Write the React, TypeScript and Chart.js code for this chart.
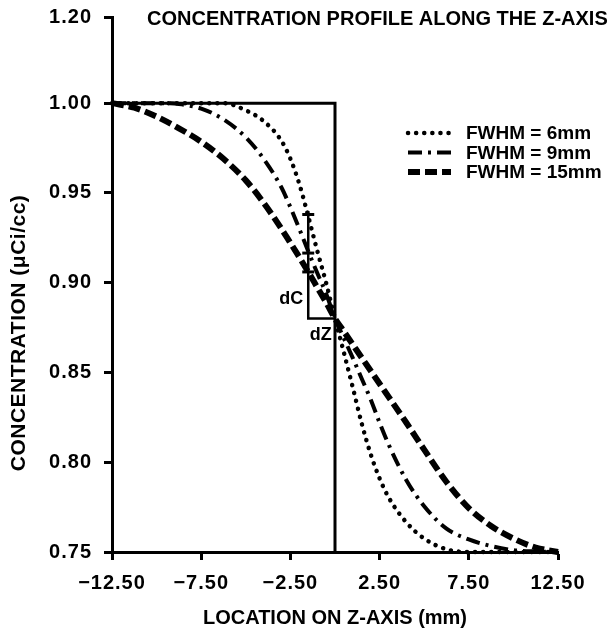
import React, { useEffect, useRef } from "react";
import { Chart, registerables } from "chart.js";

Chart.register(...registerables);

// ---- data ----
const zGrid = [-12.5, -11.25, -10, -8.75, -7.5, -6.25, -5, -4, -3, -2.5, -2, -1.5, -1, -0.5, 0, 0.5, 1, 1.5, 2, 2.5, 3, 4, 5, 6.25, 7.5, 8.75, 10, 11.25, 12.5];
const fwhm6 = [1.0, 1.0, 1.0, 1.0, 1.0, 1.0, 0.996, 0.99, 0.979, 0.969, 0.955, 0.937, 0.918, 0.9, 0.88, 0.861, 0.8415, 0.8215, 0.8045, 0.791, 0.7805, 0.7665, 0.7575, 0.7515, 0.75, 0.75, 0.75, 0.75, 0.75];
const fwhm9 = [1.0, 1.0, 1.0, 0.9995, 0.997, 0.991, 0.981, 0.969, 0.953, 0.942, 0.93, 0.9175, 0.9055, 0.894, 0.88, 0.869, 0.858, 0.8465, 0.835, 0.822, 0.81, 0.79, 0.7755, 0.763, 0.757, 0.7533, 0.751, 0.7503, 0.75];
const fwhm15 = [1.0, 0.9975, 0.9925, 0.986, 0.9785, 0.969, 0.957, 0.9445, 0.93, 0.9222, 0.9142, 0.906, 0.8975, 0.889, 0.88, 0.8728, 0.8655, 0.8582, 0.851, 0.8437, 0.8365, 0.822, 0.807, 0.789, 0.7745, 0.7645, 0.7575, 0.7525, 0.75];
const seriesLabels = ["FWHM = 6mm", "FWHM = 9mm", "FWHM = 15mm"];

const stepZ = [-12.5, 0, 0];
const stepC = [1.0, 1.0, 0.75];

const boxZ = [-1.5, -1.5, 0];
const boxC = [0.94, 0.88, 0.88];
const markZ = [-1.5, -1.5, -1.5];
const markC = [0.938, 0.9165, 0.906];

const xTicks = [-12.5, -7.5, -2.5, 2.5, 7.5, 12.5];
const xTickLabels = ["\u221212.50", "\u22127.50", "\u22122.50", "2.50", "7.50", "12.50"];
const yTicks = [0.75, 0.8, 0.85, 0.9, 0.95, 1.0, 1.048];
const yTickLabels = ["0.75", "0.80", "0.85", "0.90", "0.95", "1.00", "1.20"];

const titleText = "CONCENTRATION PROFILE ALONG THE Z-AXIS";
const xTitle = "LOCATION ON Z-AXIS (mm)";
const yTitle = "CONCENTRATION (\u03bcCi/cc)";

const FONT = "'Liberation Sans', Arial, Helvetica, sans-serif";

const pts = (xs: number[], ys: number[]) => xs.map((x, i) => ({ x, y: ys[i] }));

const curveStyles = [
  { borderDash: [0.1, 8], borderWidth: 4.5, borderCapStyle: "round" as const },
  { borderDash: [14, 6, 3, 6], borderWidth: 4, borderCapStyle: "butt" as const },
  { borderDash: [12, 5], borderWidth: 6, borderCapStyle: "butt" as const },
];

const spacing = {
  id: "spacing",
  beforeDraw(chart: any) {
    (chart.ctx as any).letterSpacing = "1px";
  },
  beforeDatasetsDraw(chart: any) {
    (chart.ctx as any).letterSpacing = "0px";
  },
};

const overlay = {
  id: "overlay",
  afterDraw(chart: any) {
    const ctx = chart.ctx;
    const xs = chart.scales.x;
    const ys = chart.scales.y;
    ctx.save();
    (ctx as any).letterSpacing = "0px";
    ctx.fillStyle = "#000";
    ctx.strokeStyle = "#000";
    // title
    ctx.font = `bold 20px ${FONT}`;
    ctx.textAlign = "left";
    ctx.textBaseline = "middle";
    ctx.fillText(titleText, 147, 19);
    // x title
    ctx.textAlign = "center";
    ctx.fillText(xTitle, xs.getPixelForValue(0), 618);
    // y title
    ctx.save();
    ctx.font = `bold 21px ${FONT}`;
    (ctx as any).letterSpacing = "0.5px";
    ctx.translate(19, ys.getPixelForValue(0.872));
    ctx.rotate(-Math.PI / 2);
    ctx.fillText(yTitle, 0, 0);
    ctx.restore();
    // legend
    const lx0 = 408, lx1 = 451, tx = 466;
    const rows = [133, 152.5, 172];
    ctx.font = `bold 19px ${FONT}`;
    ctx.textAlign = "left";
    seriesLabels.forEach((lab, i) => {
      const st = curveStyles[i];
      ctx.save();
      ctx.setLineDash(st.borderDash);
      ctx.lineWidth = st.borderWidth;
      ctx.lineCap = st.borderCapStyle;
      ctx.beginPath();
      ctx.moveTo(lx0, rows[i]);
      ctx.lineTo(lx1, rows[i]);
      ctx.stroke();
      ctx.restore();
      ctx.fillText(lab, tx, rows[i] + 1);
    });
    // dC / dZ labels
    ctx.font = `bold 18px ${FONT}`;
    ctx.textAlign = "right";
    ctx.fillText("dC", xs.getPixelForValue(-1.5) - 5, ys.getPixelForValue(0.891));
    ctx.textAlign = "center";
    ctx.fillText("dZ", xs.getPixelForValue(-0.8), ys.getPixelForValue(0.871));
    ctx.restore();
  },
};

const curve = (i: number, ys: number[]) => ({
  label: seriesLabels[i],
  data: pts(zGrid, ys),
  borderColor: "#000",
  pointRadius: 0,
  cubicInterpolationMode: "monotone",
  clip: false,
  ...curveStyles[i],
});

export default function App() {
  const ref = useRef<HTMLCanvasElement | null>(null);
  useEffect(() => {
    if (!ref.current) return;
    const chart = new Chart(ref.current, {
      type: "line",
      data: {
        datasets: [
          curve(0, fwhm6),
          curve(1, fwhm9),
          curve(2, fwhm15),
          {
            label: "step",
            data: pts(stepZ, stepC),
            borderColor: "#000",
            borderWidth: 3,
            pointRadius: 0,
            tension: 0,
            clip: false,
          },
          {
            label: "box",
            data: pts(boxZ, boxC),
            borderColor: "#000",
            borderWidth: 2.5,
            pointRadius: 0,
            tension: 0,
            clip: false,
          },
          {
            label: "marks",
            data: pts(markZ, markC),
            showLine: false,
            borderColor: "#000",
            pointStyle: "line",
            pointRadius: 6,
            pointBorderWidth: 3,
            pointBorderColor: "#000",
            clip: false,
          },
        ],
      },
      options: {
        responsive: false,
        animation: false,
        events: [],
        layout: { padding: { top: 17, right: 55, left: 0, bottom: 0 } },
        plugins: { legend: { display: false }, title: { display: false }, tooltip: { enabled: false } },
        scales: {
          x: {
            type: "linear",
            min: -12.5,
            max: 12.5,
            afterBuildTicks: (s: any) => {
              s.ticks = xTicks.map((v) => ({ value: v }));
            },
            afterFit: (s: any) => {
              s.height = 81;
              s.paddingLeft = 0;
              s.paddingRight = 0;
            },
            ticks: {
              autoSkip: false,
              maxRotation: 0,
              padding: 11,
              color: "#000",
              font: { family: FONT, size: 20, weight: "bold" },
              callback: (_v: any, i: number) => xTickLabels[i],
            },
            grid: { display: true, drawOnChartArea: false, drawTicks: true, tickLength: 8, tickWidth: 3, tickColor: "#000" },
            border: { display: true, color: "#000", width: 3 },
          },
          y: {
            type: "linear",
            min: 0.75,
            max: 1.048,
            afterBuildTicks: (s: any) => {
              s.ticks = yTicks.map((v) => ({ value: v }));
            },
            afterFit: (s: any) => {
              s.width = 112;
              s.paddingTop = 0;
              s.paddingBottom = 0;
            },
            ticks: {
              autoSkip: false,
              padding: 12,
              color: "#000",
              font: { family: FONT, size: 20, weight: "bold" },
              callback: (_v: any, i: number) => yTickLabels[i],
            },
            grid: { display: true, drawOnChartArea: false, drawTicks: true, tickLength: 8, tickWidth: 3, tickColor: "#000" },
            border: { display: true, color: "#000", width: 3 },
          },
        },
      },
      plugins: [spacing, overlay],
    } as any);
    return () => chart.destroy();
  }, []);
  return (
    <div style={{ position: "fixed", left: 0, top: 0, width: 613, height: 633, background: "#fff" }}>
      <canvas ref={ref} width={613} height={633} style={{ display: "block" }} />
    </div>
  );
}
